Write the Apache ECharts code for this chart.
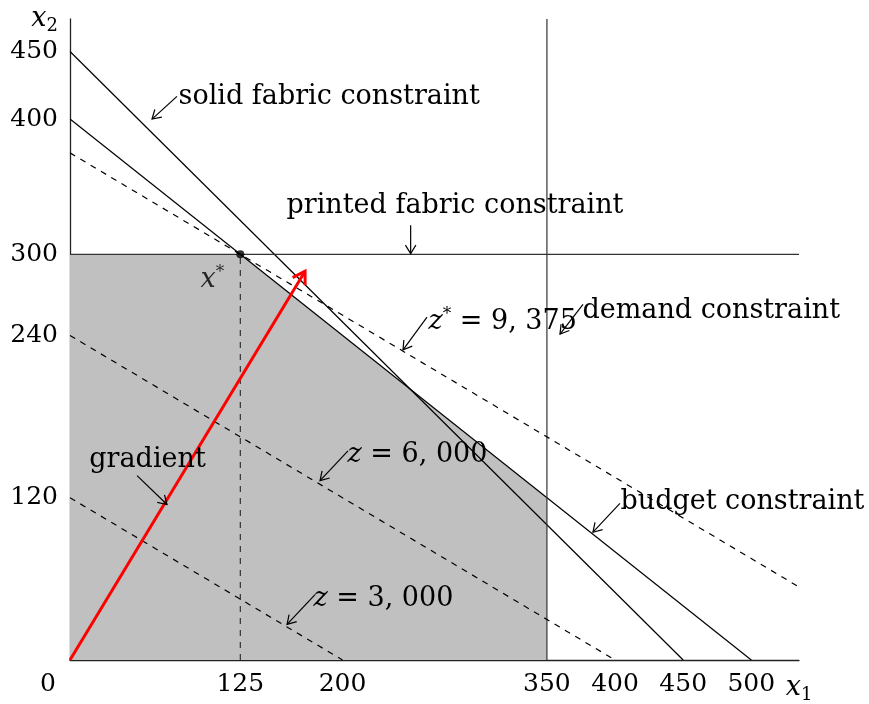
<!DOCTYPE html>
<html><head><meta charset="utf-8">
<script src="https://cdn.jsdelivr.net/npm/echarts@6/dist/echarts.min.js"></script>
<style>html,body{margin:0;padding:0;background:#fff}#c{width:869px;height:704px}</style>
</head><body><div id="c"></div>
<script>
// ---- axis extents and tick labels ----
const X_MAX = 535;
const Y_MAX = 474;
const xTicks = [0, 125, 200, 350, 400, 450, 500];
const yTicks = [120, 240, 300, 400, 450];

// ---- feasible region and constraint lines ----
const feasibleRegion = [[0, 300], [125, 300], [250, 200], [350, 120], [350, 0]];
const solidFabric = [[0, 450], [450, 0]];
const budget = [[0, 400], [500, 0]];
const printedFabric = [[0, 300], [535, 300]];
const demand = [[350, 0], [350, 474]];

// ---- objective contours (z = 15 x1 + 25 x2) ----
const z3000 = [[0, 120], [200, 0]];
const z6000 = [[0, 240], [400, 0]];
const zStar = [[0, 375], [535, 54]];
const optimumGuide = [[125, 0], [125, 300]];
const optimum = [125, 300];
const gradientArrow = [[0, 0, 172.5, 287.5]];

// ---- annotation pointers [fromX1, fromX2, toX1, toX2] ----
const pointerArrows = [
  [78.5, 416.8, 60.2, 400.0],
  [250, 321.5, 250, 300.5],
  [262.0, 253.5, 244.4, 229.3],
  [376.5, 263.0, 359.6, 241.0],
  [49.2, 136.3, 71.2, 115.0],
  [204.0, 154.6, 183.5, 132.6],
  [179.8, 48.4, 159.3, 26.4],
  [403.6, 115.8, 383.8, 94.5]
];
const labelNames = [
  'solid fabric constraint',
  'printed fabric constraint',
  '{i|z}{sup|*}{n| = 9, 375}',
  'demand constraint',
  'gradient',
  '{i|z}{n| = 6, 000}',
  '{i|z}{n| = 3, 000}',
  'budget constraint'
];
const labelPositions = [
  [79.3, 416.1],
  [282.5, 335.5],
  [262.7, 249.8],
  [375.7, 257.9],
  [56.9, 148.0],
  [203.3, 151.6],
  [178.3, 45.4],
  [403.6, 116.5]
];
const labelAligns = ['left', 'center', 'left', 'left', 'center', 'left', 'left', 'left'];

const FONT = 'DejaVu Serif';
const FS = 27;
const AFS = 25;
const rich = {
  i: { fontFamily: FONT, fontStyle: 'italic', fontSize: FS, color: '#000', lineHeight: 32 },
  n: { fontFamily: FONT, fontSize: FS, color: '#000', lineHeight: 32 },
  sup: { fontFamily: FONT, fontSize: 17, color: '#000', verticalAlign: 'top', lineHeight: 20 },
  sub: { fontFamily: FONT, fontSize: 18, color: '#000', verticalAlign: 'bottom', lineHeight: 18 },
  o: { fontFamily: FONT, fontSize: AFS, color: '#000', padding: [0, 44, 0, 0] }
};

function lineSeries(data, dashed, color) {
  return {
    type: 'line', data: data, symbol: 'none', silent: true,
    lineStyle: { color: color || '#000', width: 1.2, type: dashed ? [6, 6] : 'solid' },
    z: 3
  };
}

function makeArrowRender(color, width, head) {
  return function (params, api) {
    const p0 = api.coord([api.value(0), api.value(1)]);
    const p1 = api.coord([api.value(2), api.value(3)]);
    const ang = Math.atan2(p1[1] - p0[1], p1[0] - p0[0]);
    const a = 0.55;
    const h1 = [p1[0] - head * Math.cos(ang - a), p1[1] - head * Math.sin(ang - a)];
    const h2 = [p1[0] - head * Math.cos(ang + a), p1[1] - head * Math.sin(ang + a)];
    return {
      type: 'group',
      children: [
        { type: 'line', shape: { x1: p0[0], y1: p0[1], x2: p1[0], y2: p1[1] }, style: { stroke: color, lineWidth: width } },
        { type: 'polyline', shape: { points: [h1, p1, h2] }, style: { stroke: color, lineWidth: width, fill: null, lineJoin: 'miter' } }
      ]
    };
  };
}

const chart = echarts.init(document.getElementById('c'), null, { renderer: 'canvas' });
chart.setOption({
  animation: false,
  backgroundColor: '#fff',
  grid: { left: 70, right: 70, top: 19, bottom: 38, containLabel: false },
  xAxis: {
    type: 'value', min: 0, max: X_MAX,
    axisLine: { show: true, onZero: false, lineStyle: { color: '#222', width: 1.3 } },
    axisTick: { show: false },
    splitLine: { show: false },
    axisLabel: {
      customValues: xTicks.concat([X_MAX]),
      showMinLabel: true, showMaxLabel: true,
      margin: 12,
      fontFamily: FONT, fontSize: AFS, color: '#000',
      formatter: function (v) {
        if (v === X_MAX) return '{i|x}{sub|1}';
        if (v === 0) return '{o|0}';
        return String(v);
      },
      rich: rich
    }
  },
  yAxis: {
    type: 'value', min: 0, max: Y_MAX,
    axisLine: { show: true, onZero: false, lineStyle: { color: '#222', width: 1.3 } },
    axisTick: { show: false },
    splitLine: { show: false },
    axisLabel: {
      customValues: yTicks.concat([Y_MAX]),
      showMinLabel: true, showMaxLabel: true,
      margin: 12,
      fontFamily: FONT, fontSize: AFS, color: '#000',
      formatter: function (v) {
        if (v === Y_MAX) return '{i|x}{sub|2}';
        return String(v);
      },
      rich: rich
    }
  },
  series: [
    {
      type: 'line', data: feasibleRegion, symbol: 'none', silent: true,
      lineStyle: { width: 0, opacity: 0 },
      areaStyle: { color: '#c0c0c0', opacity: 1 },
      z: 1
    },
    lineSeries(solidFabric),
    lineSeries(budget),
    lineSeries(printedFabric, false, '#333'),
    lineSeries(demand, false, '#333'),
    lineSeries(z3000, true),
    lineSeries(z6000, true),
    lineSeries(zStar, true),
    lineSeries(optimumGuide, true, '#333'),
    {
      type: 'custom', data: gradientArrow, silent: true, z: 5,
      encode: { x: [0, 2], y: [1, 3] },
      renderItem: makeArrowRender('#ff0000', 3, 14)
    },
    {
      type: 'custom', data: pointerArrows, silent: true, z: 5,
      encode: { x: [0, 2], y: [1, 3] },
      renderItem: makeArrowRender('#000', 1.2, 10)
    },
    {
      type: 'scatter', data: [optimum], symbol: 'circle', symbolSize: 8, silent: true, z: 6,
      itemStyle: { color: '#000' },
      label: {
        show: true, position: 'inside', offset: [-28, 26],
        formatter: '{i|x}{sup|*}', rich: rich
      }
    },
    {
      type: 'scatter', silent: true, z: 6,
      symbol: 'circle', symbolSize: 1,
      itemStyle: { color: 'rgba(0,0,0,0)' },
      data: labelNames.map(function (name, k) {
        return {
          name: name, value: labelPositions[k],
          label: labelAligns[k] === 'center'
            ? { position: 'inside', align: 'center', color: '#000' }
            : { position: 'right', distance: 0, color: '#000' }
        };
      }),
      label: {
        show: true, verticalAlign: 'middle',
        fontFamily: FONT, fontSize: FS, color: '#000', opacity: 1,
        textBorderWidth: 0,
        formatter: function (p) { return p.name; },
        rich: rich
      }
    }
  ]
});
</script>
</body></html>
